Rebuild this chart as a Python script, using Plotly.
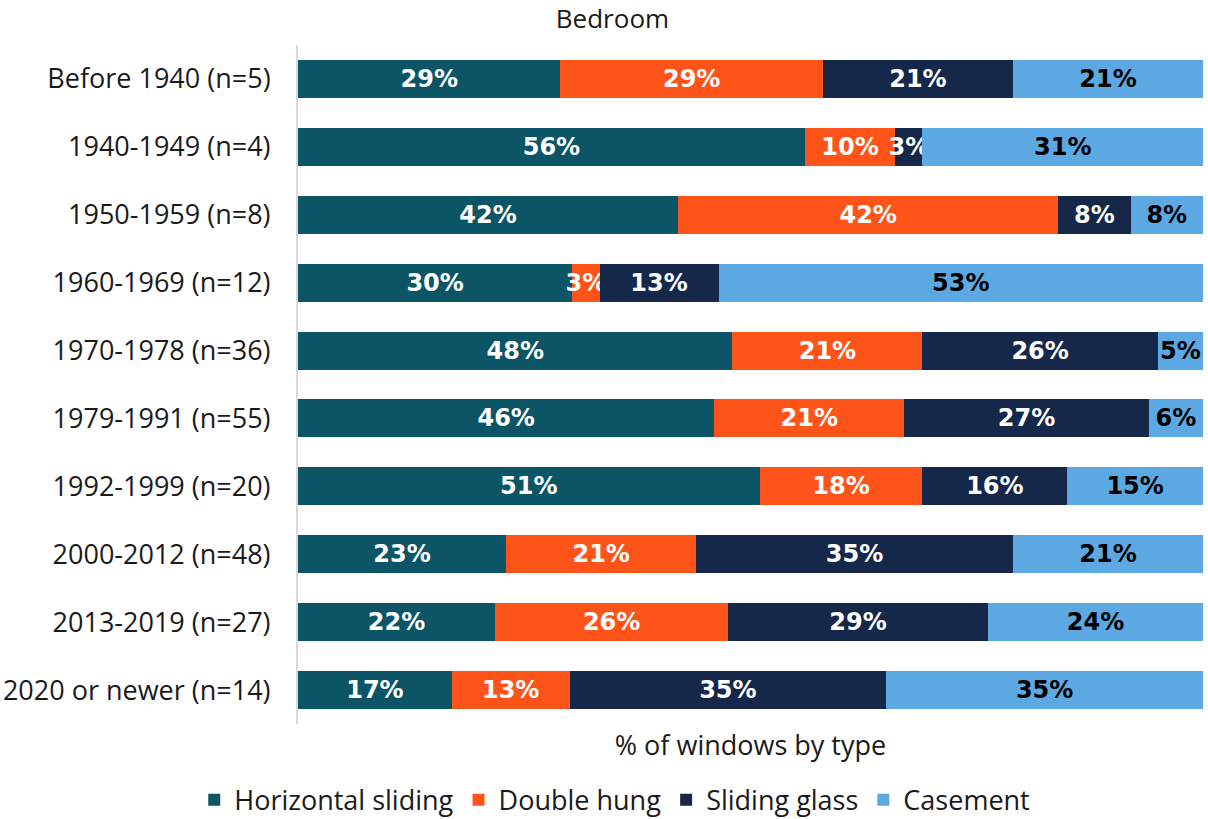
import plotly.graph_objects as go

categories = ["Before 1940 (n=5)", "1940-1949 (n=4)", "1950-1959 (n=8)", "1960-1969 (n=12)",
              "1970-1978 (n=36)", "1979-1991 (n=55)", "1992-1999 (n=20)", "2000-2012 (n=48)",
              "2013-2019 (n=27)", "2020 or newer (n=14)"]
horizontal_sliding = [29, 56, 42, 30, 48, 46, 51, 23, 22, 17]
double_hung = [29, 10, 42, 3, 21, 21, 18, 21, 26, 13]
sliding_glass = [21, 3, 8, 13, 26, 27, 16, 35, 29, 35]
casement = [21, 31, 8, 53, 5, 6, 15, 21, 24, 35]

series = [
    ("Horizontal sliding", horizontal_sliding, "#0B5566", "white"),
    ("Double hung", double_hung, "#FF5419", "white"),
    ("Sliding glass", sliding_glass, "#15284A", "white"),
    ("Casement", casement, "#5BA8E3", "black"),
]

FONT = "Open Sans"
BOLD = "DejaVu Sans"
TXT = "#1a1a1a"
fig = go.Figure()
for name, vals, color, tcolor in series:
    fig.add_trace(go.Bar(
        y=categories, x=vals, name=name, orientation="h",
        marker=dict(color=color, line=dict(width=0)),
        text=[f"{v}%" for v in vals], textposition="inside",
        insidetextanchor="middle", textangle=0,
        textfont=dict(family=BOLD, size=24, color=tcolor, weight="bold"),
        hoverinfo="skip",
    ))

fig.update_layout(
    barmode="stack", barnorm="percent", bargap=0.44,
    width=1208, height=819,
    margin=dict(l=298, r=5, t=45, b=95, autoexpand=False),
    plot_bgcolor="white", paper_bgcolor="white",
    font=dict(family=FONT, size=26, color=TXT),
    title=dict(text="Bedroom", x=0.507, xanchor="center", y=0.977, yanchor="middle",
               pad=dict(t=0, b=0, l=0, r=0),
               font=dict(family=FONT, size=26, color=TXT)),
    uniformtext=dict(mode="show", minsize=24),
    legend=dict(orientation="h", x=0.35, xanchor="center", y=-0.076, yanchor="top",
                itemwidth=30,
                font=dict(family=FONT, size=27, color=TXT), traceorder="normal"),
    xaxis=dict(range=[0, 100], showticklabels=False, showgrid=False, zeroline=False,
               showline=False, ticks="", automargin=False,
               title=dict(text="% of windows by type", standoff=12,
                          font=dict(family=FONT, size=27, color=TXT))),
    yaxis=dict(autorange="reversed", showgrid=False, zeroline=False, showline=True,
               linecolor="#d9d9d9", linewidth=2, ticks="", ticklabelstandoff=20,
               automargin=False,
               tickfont=dict(family=FONT, size=27, color=TXT)),
)

fig.write_html("out.html", config={"displayModeBar": False},
               post_script="document.body.style.margin='0';document.body.style.overflow='hidden';")
